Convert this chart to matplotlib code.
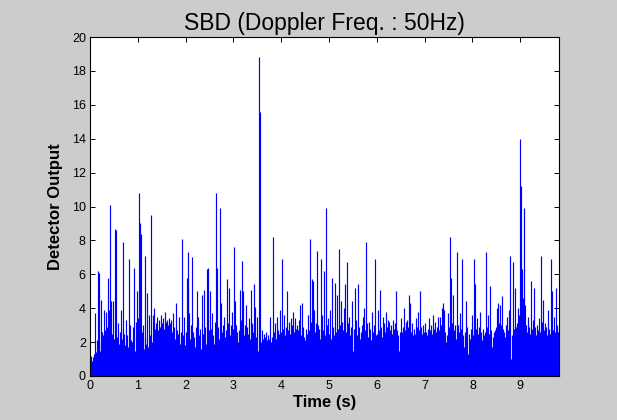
"""
SBD detector output vs time (Doppler 50 Hz), MATLAB-look figure.
"""
import numpy as np
import matplotlib
matplotlib.use('Agg')
import matplotlib.pyplot as plt

# sample step (s) of the envelope
DT = 0.02

# detector output, one value per 0.02 s (rows of 0.5 s)
output = [
    1.0, 1.2, 0.9, 1.1, 1.3, 3.7, 1.4, 2.1, 6.2, 6.1, 1.5, 4.5, 2.0, 2.6, 2.4, 3.9, 2.7, 3.8, 2.9, 5.8, 3.9, 10.1, 4.4, 2.5, 4.4,
    2.2, 8.7, 8.6, 2.3, 3.1, 1.9, 2.6, 3.9, 2.2, 7.9, 2.8, 2.5, 1.8, 3.3, 2.4, 1.7, 6.9, 3.0, 2.1, 2.0, 2.9, 6.4, 1.5, 3.2, 5.0,
    3.4, 10.8, 9.0, 8.4, 2.6, 3.0, 1.6, 7.1, 2.3, 1.9, 4.9, 1.7, 3.6, 2.4, 9.5, 2.0, 3.6, 4.0, 2.8, 3.1, 3.5, 2.7, 3.3, 2.9, 3.6,
    3.1, 3.4, 2.8, 3.8, 3.2, 2.9, 3.3, 3.0, 3.4, 3.1, 3.3, 2.6, 3.7, 2.9, 2.2, 4.3, 2.7, 2.5, 3.5, 1.9, 2.6, 8.1, 2.4, 3.5, 1.8,
    2.6, 5.8, 5.3, 7.3, 3.7, 2.2, 3.0, 7.0, 2.6, 2.3, 1.7, 2.9, 5.0, 3.5, 2.4, 2.8, 1.6, 4.8, 2.5, 5.1, 2.9, 1.9, 6.3, 6.4, 2.7,
    2.0, 5.0, 2.8, 3.7, 2.4, 1.9, 3.2, 10.8, 6.4, 2.9, 2.2, 9.9, 4.3, 2.6, 3.0, 3.5, 2.3, 2.7, 5.7, 3.1, 5.2, 2.4, 3.0, 3.8, 2.5,
    2.8, 7.6, 4.4, 3.0, 2.6, 2.0, 2.7, 5.1, 3.3, 6.8, 5.0, 2.4, 3.0, 4.2, 2.9, 2.5, 3.4, 2.2, 5.1, 3.1, 2.6, 5.4, 3.0, 4.1, 2.3,
    3.5, 1.5, 18.8, 15.6, 2.0, 2.7, 2.2, 2.5, 2.3, 2.6, 2.1, 2.4, 2.2, 3.5, 2.0, 2.3, 8.2, 2.6, 2.4, 3.1, 2.2, 3.5, 2.7, 2.5, 3.9,
    2.6, 6.9, 2.8, 3.6, 2.4, 2.9, 5.0, 2.7, 3.2, 2.5, 3.4, 3.0, 3.8, 2.6, 3.4, 2.8, 2.3, 3.0, 2.7, 3.3, 4.2, 2.4, 4.3, 2.9, 2.3,
    2.1, 2.8, 2.5, 3.6, 2.7, 8.1, 3.2, 5.7, 5.6, 3.9, 2.6, 3.1, 7.4, 3.0, 2.4, 2.8, 2.2, 6.9, 3.6, 2.7, 6.2, 2.4, 9.9, 3.0, 3.4,
    2.5, 3.9, 2.2, 5.8, 2.9, 2.4, 5.5, 2.6, 4.8, 2.8, 7.5, 3.0, 4.4, 2.5, 3.2, 2.7, 4.0, 5.4, 2.6, 6.7, 3.1, 3.5, 2.4, 2.9, 4.4,
    1.5, 2.8, 5.2, 3.3, 2.4, 5.4, 2.9, 2.2, 2.6, 3.0, 3.5, 2.5, 4.0, 2.7, 7.9, 3.1, 2.3, 3.2, 2.8, 2.1, 3.8, 2.6, 3.0, 6.9, 2.4,
    2.5, 3.9, 2.7, 5.1, 2.9, 2.3, 3.5, 2.8, 3.1, 2.6, 3.8, 2.9, 3.3, 3.2, 2.7, 3.0, 2.5, 3.3, 2.8, 3.1, 5.0, 2.7, 2.4, 1.5, 2.6,
    3.4, 2.6, 2.9, 4.0, 2.7, 3.2, 2.8, 3.3, 2.9, 4.8, 4.3, 2.6, 3.1, 2.4, 2.8, 2.5, 3.4, 2.9, 3.8, 2.7, 5.0, 2.9, 2.5, 3.0, 2.6,
    3.1, 2.6, 2.4, 2.8, 2.3, 3.4, 2.7, 3.0, 2.5, 3.6, 2.8, 3.2, 2.6, 2.9, 3.5, 2.7, 3.5, 3.0, 4.0, 4.3, 3.9, 2.6, 2.0, 2.4, 3.7,
    2.9, 2.5, 8.2, 5.8, 3.1, 4.8, 2.7, 3.0, 2.2, 7.3, 3.0, 2.6, 3.7, 2.8, 6.9, 2.4, 1.7, 2.6, 4.4, 2.9, 1.3, 2.5, 2.2, 2.8, 3.6,
    2.7, 2.4, 6.9, 5.4, 2.8, 3.4, 2.5, 2.9, 3.8, 2.6, 2.1, 2.8, 2.4, 2.6, 7.3, 2.9, 3.6, 2.5, 5.3, 2.7, 1.7, 2.3, 2.6, 1.8, 2.7,
    2.9, 4.0, 4.3, 3.1, 4.2, 3.0, 4.7, 2.8, 2.6, 2.3, 3.0, 3.5, 2.7, 3.9, 7.1, 1.0, 2.4, 6.7, 2.8, 2.5, 5.2, 2.9, 3.1, 4.0, 3.6,
    14.0, 11.2, 6.3, 4.6, 9.9, 4.2, 3.0, 2.6, 3.5, 2.9, 2.5, 5.6, 2.8, 3.3, 5.2, 2.9, 2.4, 2.5, 3.0, 2.7, 3.4, 2.6, 7.1, 3.2, 4.5,
    2.7, 3.1, 2.9, 2.4, 3.9, 2.8, 2.5, 6.9, 5.0, 2.7, 3.5, 2.6, 5.2, 3.0, 2.6, 2.9,
]

x_ticks = [0, 1, 2, 3, 4, 5, 6, 7, 8, 9]
y_ticks = [0, 2, 4, 6, 8, 10, 12, 14, 16, 18, 20]

time = np.arange(len(output)) * DT

plt.rcParams['font.family'] = ['Liberation Sans', 'DejaVu Sans']

fig = plt.figure(figsize=(6.17, 4.2), dpi=100, facecolor='#cccccc')
ax = fig.add_axes([90 / 617, 44 / 420, 469 / 617, 339 / 420])
ax.set_facecolor('white')

ax.vlines(time, 0, output, colors='#0000ff', linewidth=0.85)

ax.set_xlim(0, 9.81)
ax.set_ylim(0, 20)
ax.set_xticks(x_ticks)
ax.set_yticks(y_ticks)
ax.tick_params(direction='in', length=3.6, width=0.7, top=True, right=True,
               labelsize=9, pad=3, colors='black')
for s in ax.spines.values():
    s.set_linewidth(0.8)
    s.set_color('black')

ax.set_title('SBD (Doppler Freq. : 50Hz)', fontsize=16.5, pad=5)
ax.set_xlabel('Time (s)', fontsize=12, fontweight='bold', labelpad=2)
ax.set_ylabel('Detector Output', fontsize=12, fontweight='bold', labelpad=6)

fig.savefig('out.png', dpi=100, facecolor=fig.get_facecolor())
